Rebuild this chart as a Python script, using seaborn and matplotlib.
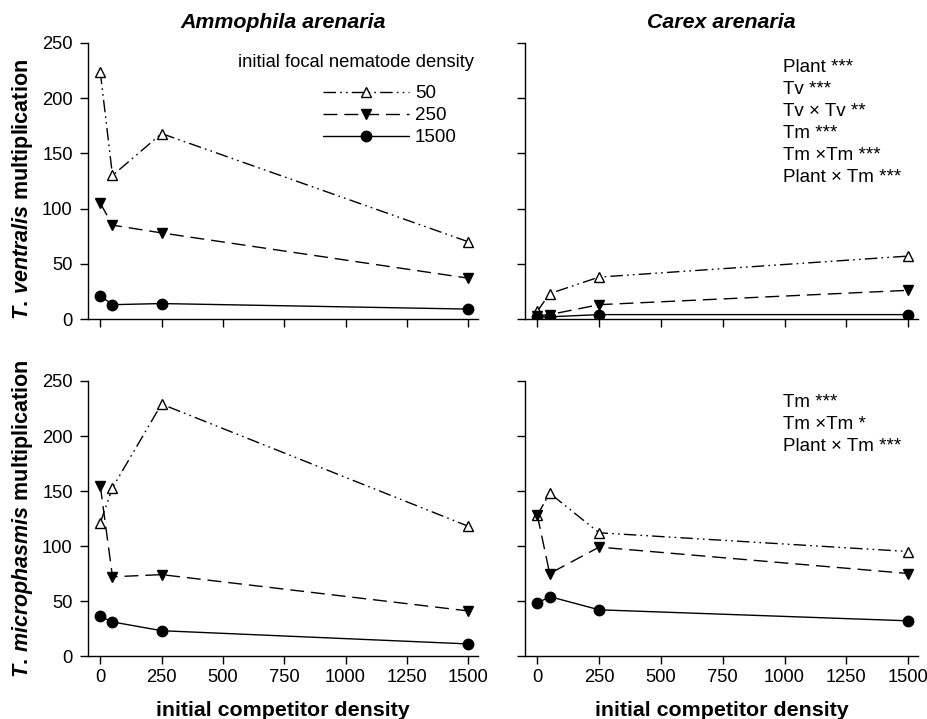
import matplotlib
matplotlib.use("Agg")
import matplotlib.pyplot as plt
import seaborn as sns
import numpy as np

# ---- data ----
competitor = [0, 50, 250, 1500]
focal_levels = ["50", "250", "1500"]

# T. ventralis multiplication, Ammophila arenaria
tv_amm_50 = [224, 130, 168, 70]
tv_amm_250 = [105, 85, 78, 37]
tv_amm_1500 = [21, 13, 14, 9]
# T. ventralis multiplication, Carex arenaria
tv_car_50 = [7, 23, 38, 57]
tv_car_250 = [3, 4, 13, 26]
tv_car_1500 = [2, 2, 4, 4]
# T. microphasmis multiplication, Ammophila arenaria
tm_amm_50 = [121, 153, 229, 118]
tm_amm_250 = [155, 72, 74, 41]
tm_amm_1500 = [36, 31, 23, 11]
# T. microphasmis multiplication, Carex arenaria
tm_car_50 = [128, 148, 112, 95]
tm_car_250 = [128, 75, 99, 75]
tm_car_1500 = [48, 54, 42, 32]

titles = ["Ammophila arenaria", "Carex arenaria"]
legend_title = "initial focal nematode density"
stats_top = ["Plant ***", "Tv ***", "Tv \u00d7 Tv **", "Tm ***", "Tm \u00d7Tm ***", "Plant \u00d7 Tm ***"]
stats_bottom = ["Tm ***", "Tm \u00d7Tm *", "Plant \u00d7 Tm ***"]

sns.set_style("ticks")
plt.rcParams["font.family"] = ["Liberation Sans", "DejaVu Sans"]
plt.rcParams["text.color"] = "black"
plt.rcParams["axes.labelcolor"] = "black"
plt.rcParams["mathtext.fontset"] = "custom"
plt.rcParams["mathtext.it"] = "Liberation Sans:italic:bold"
plt.rcParams["mathtext.rm"] = "Liberation Sans:bold"
plt.rcParams["mathtext.bf"] = "Liberation Sans:bold"

fig = plt.figure(figsize=(9.27, 7.19), dpi=100)
ax_tl = fig.add_axes([0.0949, 0.5563, 0.4207, 0.3839])
ax_tr = fig.add_axes([0.5663, 0.5563, 0.4240, 0.3839])
ax_bl = fig.add_axes([0.0949, 0.0876, 0.4207, 0.3825])
ax_br = fig.add_axes([0.5663, 0.0876, 0.4240, 0.3825])

styles = {
    "50": dict(marker="^", markerfacecolor="white", linestyle=(0, (9, 3, 1.2, 3, 1.2, 3))),
    "250": dict(marker="v", markerfacecolor="black", linestyle=(0, (10, 5))),
    "1500": dict(marker="o", markerfacecolor="black", linestyle="-"),
}

panels = [
    (ax_tl, [tv_amm_50, tv_amm_250, tv_amm_1500]),
    (ax_tr, [tv_car_50, tv_car_250, tv_car_1500]),
    (ax_bl, [tm_amm_50, tm_amm_250, tm_amm_1500]),
    (ax_br, [tm_car_50, tm_car_250, tm_car_1500]),
]

for ax, series in panels:
    for lev, vals in zip(focal_levels, series):
        st = styles[lev]
        sns.lineplot(x=competitor, y=vals, ax=ax, color="black", lw=1.0,
                     marker=st["marker"], markersize=7.5,
                     markerfacecolor=st["markerfacecolor"],
                     markeredgecolor="black", markeredgewidth=1.0,
                     linestyle=st["linestyle"], label=lev, sort=False)
    if ax.get_legend() is not None:
        ax.get_legend().remove()
    ax.set_xlim(-50, 1540)
    ax.set_ylim(0, 250)
    ax.set_xticks([0, 250, 500, 750, 1000, 1250, 1500])
    ax.set_yticks([0, 50, 100, 150, 200, 250])
    sns.despine(ax=ax)
    ax.tick_params(axis="both", direction="out", length=6, width=1, labelsize=13.2,
                   colors="black", pad=5)
    ax.tick_params(axis="x", pad=3)
    for sp in ax.spines.values():
        sp.set_linewidth(1.0)
        sp.set_color("black")
    ax.set_xlabel("")
    ax.set_ylabel("")

# tick labels
for ax in (ax_tl, ax_tr):
    ax.tick_params(labelbottom=False)
for ax in (ax_tr, ax_br):
    ax.tick_params(labelleft=False)

# titles
ax_tl.set_title(titles[0], fontsize=15.4, fontweight="bold", fontstyle="italic", pad=11)
ax_tr.set_title(titles[1], fontsize=15.4, fontweight="bold", fontstyle="italic", pad=11)

# axis labels
ax_tl.set_ylabel(r"$\mathit{T.\,ventralis}$ multiplication", fontsize=15.5,
                 fontweight="bold", labelpad=5)
ax_bl.set_ylabel(r"$\mathit{T.\,microphasmis}$ multiplication", fontsize=15.5,
                 fontweight="bold", labelpad=5)
ax_tl.yaxis.label.set_y(0.47)
ax_bl.set_xlabel("initial competitor density", fontsize=15.4, fontweight="bold", labelpad=11)
ax_br.set_xlabel("initial competitor density", fontsize=15.4, fontweight="bold", labelpad=11)

# legend
handles, labels = ax_tl.get_legend_handles_labels()
ax_tl.text(0.687, 0.931, legend_title, transform=ax_tl.transAxes, ha="center", va="center",
           fontsize=13.2)
leg = ax_tl.legend(handles, labels, loc="upper left", bbox_to_anchor=(0.6026, 0.848),
                   frameon=False, fontsize=13.5, handlelength=4.6,
                   handletextpad=0.3, labelspacing=0.27, borderpad=0, borderaxespad=0)

# statistics text
for ax, lines, y0 in ((ax_tr, stats_top, 0.913), (ax_br, stats_bottom, 0.920)):
    for i, line in enumerate(lines):
        ax.text(0.656, y0 - i * 0.0797, line, transform=ax.transAxes, ha="left",
                va="center", fontsize=13.5)

fig.savefig("out.png", dpi=100)
